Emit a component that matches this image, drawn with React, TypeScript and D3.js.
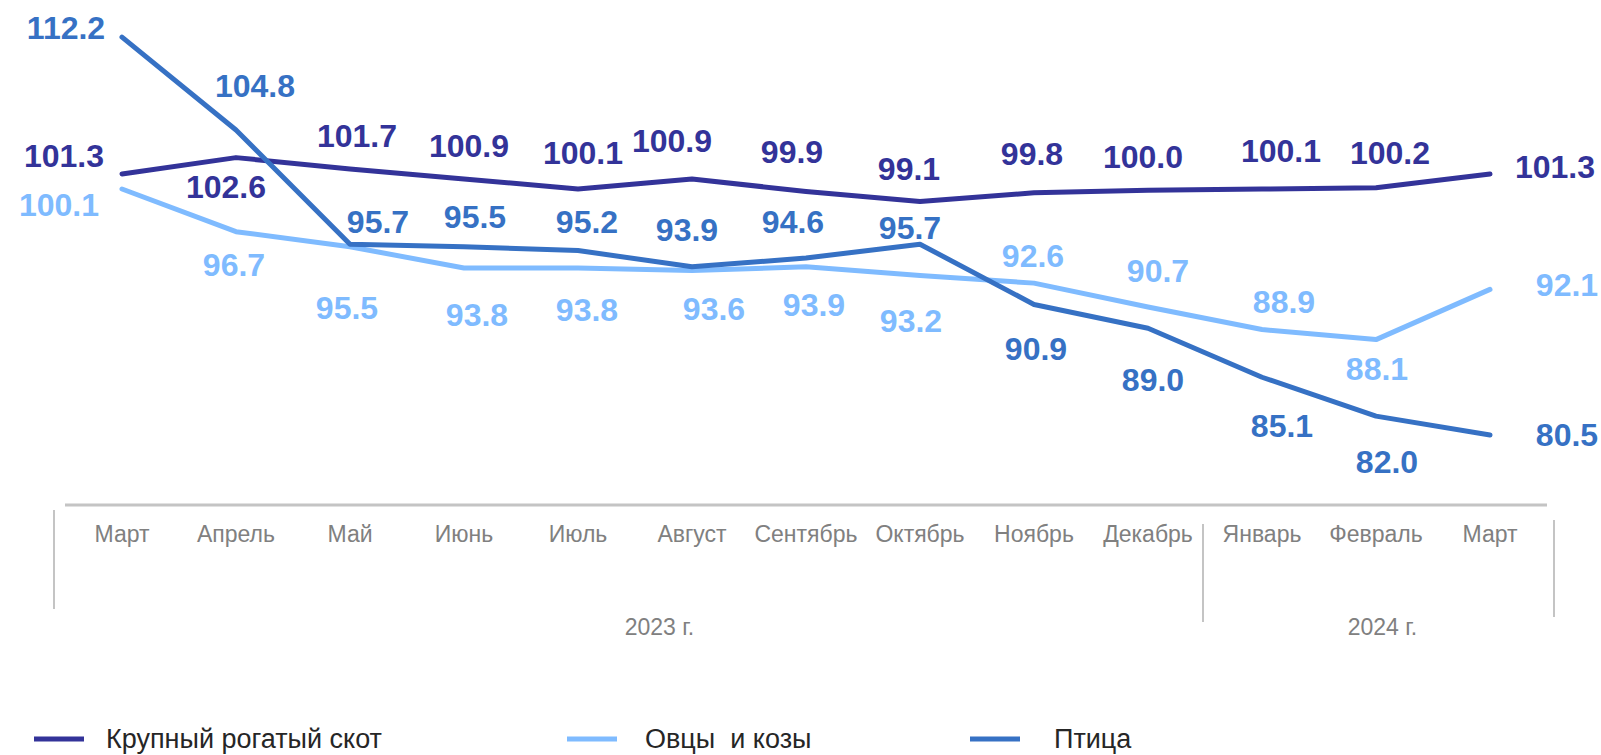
import React from "react";
import * as d3 from "d3";

// monthly indices, % to the same month of the previous year
const months = ["Март", "Апрель", "Май", "Июнь", "Июль", "Август", "Сентябрь", "Октябрь", "Ноябрь", "Декабрь", "Январь", "Февраль", "Март"];
const years = [
  { label: "2023 г.", from: 0, to: 9 },
  { label: "2024 г.", from: 10, to: 12 },
];
const cattle = [101.3, 102.6, 101.7, 100.9, 100.1, 100.9, 99.9, 99.1, 99.8, 100.0, 100.1, 100.2, 101.3];
const sheep = [100.1, 96.7, 95.5, 93.8, 93.8, 93.6, 93.9, 93.2, 92.6, 90.7, 88.9, 88.1, 92.1];
const poultry = [112.2, 104.8, 95.7, 95.5, 95.2, 93.9, 94.6, 95.7, 90.9, 89.0, 85.1, 82.0, 80.5];

// manual label placement (offset of label centre from the point), like in excel
const cattleLabelOff = [[-58, -18], [-10, 29], [7, -33], [5, -33], [5, -37], [-20, -38], [-14, -40], [-11, -33], [-2, -39], [-5, -34], [19, -39], [14, -35], [65, -7]];
const sheepLabelOff = [[-63, 15], [-2, 33], [-3, 61], [13, 46], [9, 41], [22, 38], [8, 38], [-9, 45], [-1, -28], [10, -36], [22, -28], [1, 29], [77, -5]];
const poultryLabelOff = [[-56, -10], [19, -45], [28, -23], [11, -30], [9, -29], [-5, -37], [-13, -37], [-10, -17], [2, 44], [5, 51], [20, 48], [11, 45], [77, 0]];

const series = [
  { name: "Крупный рогатый скот", values: cattle, off: cattleLabelOff, color: "#333399" },
  { name: "Овцы  и козы", values: sheep, off: sheepLabelOff, color: "#7fbbff" },
  { name: "Птица", values: poultry, off: poultryLabelOff, color: "#3671c4" },
];

const W = 1601, H = 755;
const FONT = "'Liberation Sans', Arial, sans-serif";

export default function App() {
  const x = d3.scaleBand<number>().domain(d3.range(months.length)).range([65, 1547]).padding(0);
  const cx = (i: number) => (x(i) as number) + x.bandwidth() / 2;
  const y = d3.scaleLinear().domain([75, 115]).range([504, 2]);

  const line = d3
    .line<number>()
    .x((d, i) => cx(i))
    .y(d => y(d));

  const axisY = 505;
  const midDiv = x(10) as number;

  const legend = [
    { lx: 34, tx: 106 },
    { lx: 567, tx: 645 },
    { lx: 970, tx: 1054 },
  ];

  return (
    <div style={{ position: "fixed", left: 0, top: 0 }}>
      <svg width={W} height={H} style={{ display: "block", background: "#fff" }} fontFamily={FONT}>
        {/* category axis */}
        <line x1={x.range()[0]} x2={x.range()[1]} y1={axisY} y2={axisY} stroke="#c4c4c4" strokeWidth={3} />
        <line x1={54} x2={54} y1={510} y2={609} stroke="#c4c4c4" strokeWidth={2} />
        <line x1={midDiv - 2} x2={midDiv - 2} y1={524} y2={622} stroke="#c4c4c4" strokeWidth={2} />
        <line x1={1554} x2={1554} y1={520} y2={617} stroke="#c4c4c4" strokeWidth={2} />
        {months.map((m, i) => (
          <text key={"m" + i} x={cx(i)} y={542} textAnchor="middle" fontSize={23} fill="#808080">
            {m}
          </text>
        ))}
        {years.map((yr, k) => {
          const left = k === 0 ? 54 : midDiv;
          const right = k === 0 ? midDiv : 1554;
          const pos = k === 0 ? (left + right) / 2 + 30 : (left + right) / 2 + 3;
          return (
            <text key={"y" + k} x={pos} y={635} textAnchor="middle" fontSize={23} fill="#808080">
              {yr.label}
            </text>
          );
        })}

        {/* lines */}
        {series.map(s => (
          <path
            key={s.name}
            d={line(s.values) as string}
            fill="none"
            stroke={s.color}
            strokeWidth={5}
            strokeLinejoin="round"
            strokeLinecap="round"
          />
        ))}

        {/* data labels */}
        {series.map(s =>
          s.values.map((v, i) => (
            <text
              key={s.name + i}
              x={cx(i) + s.off[i][0]}
              y={y(v) + s.off[i][1]}
              dy="0.36em"
              textAnchor="middle"
              fontSize={32}
              fontWeight="bold"
              fill={s.color}
            >
              {v.toFixed(1)}
            </text>
          ))
        )}

        {/* legend */}
        {series.map((s, k) => (
          <g key={"lg" + k}>
            <line x1={legend[k].lx} x2={legend[k].lx + 50} y1={739} y2={739} stroke={s.color} strokeWidth={5} />
            <text x={legend[k].tx} y={748} fontSize={27} fill="#262626" style={{ whiteSpace: "pre" }}>
              {s.name}
            </text>
          </g>
        ))}
      </svg>
    </div>
  );
}
